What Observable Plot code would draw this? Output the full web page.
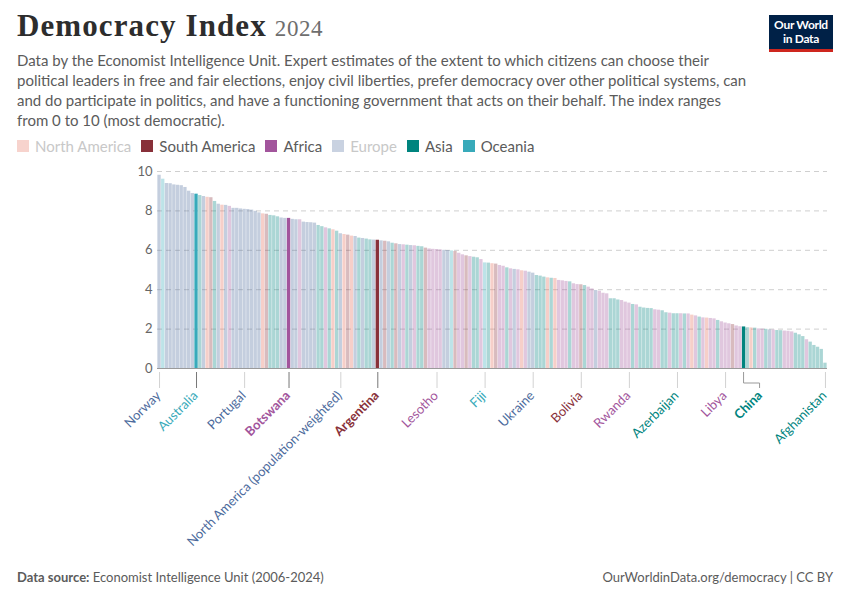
<!DOCTYPE html>
<html>
<head>
<meta charset="utf-8">
<script src="https://cdn.jsdelivr.net/npm/d3@7"></script>
<script src="https://cdn.jsdelivr.net/npm/@observablehq/plot@0.6"></script>
<style>
  html, body { margin: 0; padding: 0; background: #fff; }
  body { width: 850px; height: 600px; position: relative; overflow: hidden; font-family: Lato, "Noto Sans", sans-serif; }
  #title { position: absolute; left: 17px; top: 8px; font-family: "Liberation Serif", "DejaVu Serif", serif; font-size: 31px; font-weight: 700; color: #2d2d2d; white-space: nowrap; letter-spacing: 1.1px; }
  #title span { font-size: 23px; font-weight: 400; color: #6e6e6e; margin-left: 8px; letter-spacing: 0.6px; }
  #subtitle { position: absolute; left: 17px; top: 50px; font-size: 15px; line-height: 20px; color: #5b5b5b; white-space: nowrap; }
  #legend { position: absolute; left: 17px; top: 137px; font-size: 15px; color: #5b5b5b; display: flex; gap: 10px; white-space: nowrap; }
  #legend .item { display: flex; align-items: center; }
  #legend .sw { width: 12px; height: 12px; margin-right: 6px; display: inline-block; }
  #logo { position: absolute; left: 769px; top: 15px; width: 64px; height: 37px; background: #002147; color: #fff; font-size: 12px; font-weight: 700; line-height: 14px; text-align: center; box-sizing: border-box; padding-top: 3px; letter-spacing: -0.3px; border-bottom: 3px solid #ce261e; }
  #chart { position: absolute; left: 0; top: 160px; }
  #footer-left { position: absolute; left: 17px; top: 569px; font-size: 13px; color: #5b5b5b; }
  #footer-right { position: absolute; right: 17px; top: 569px; font-size: 13px; color: #5b5b5b; }
</style>
</head>
<body>
<div id="title">Democracy Index<span>2024</span></div>
<div id="subtitle">Data by the Economist Intelligence Unit. Expert estimates of the extent to which citizens can choose their<br>political leaders in free and fair elections, enjoy civil liberties, prefer democracy over other political systems, can<br>and do participate in politics, and have a functioning government that acts on their behalf. The index ranges<br>from 0 to 10 (most democratic).</div>
<div id="legend"></div>
<div id="logo">Our World<br>in Data</div>
<div id="chart"></div>
<div id="footer-left"><b>Data source:</b> Economist Intelligence Unit (2006-2024)</div>
<div id="footer-right">OurWorldinData.org/democracy | CC BY</div>
<script>
// ---- data (sorted by 2024 score) ----
const countries = [
"Norway","New Zealand","Sweden","Iceland","Switzerland","Finland","Denmark","Ireland","Netherlands","Luxembourg",
"Australia","Taiwan","Germany","Canada","Uruguay","Japan","United Kingdom","Costa Rica","Austria","Mauritius",
"Estonia","Spain","Czechia","Portugal","Greece","France","Belgium","Malta","United States","Chile",
"South Korea","Israel","Malaysia","Slovenia","Italy","Botswana","Lithuania","Cyprus","Cape Verde","Latvia",
"Poland","Slovakia","Croatia","India","Timor-Leste","South Africa","Philippines","Trinidad and Tobago","Indonesia","North America (population-weighted)",
"Panama","Suriname","Jamaica","Hungary","Thailand","Bulgaria","Mongolia","Sri Lanka","Romania","Argentina",
"Serbia","Brazil","Montenegro","Singapore","Colombia","North Macedonia","Ghana","Armenia","Albania","Namibia",
"Nepal","Georgia","Guyana","Zambia","Senegal","Lesotho","Malawi","Moldova","Bosnia and Herzegovina","Papua New Guinea",
"Paraguay","Madagascar","Liberia","Peru","Sierra Leone","Hong Kong","Bhutan","Tanzania","Fiji","Bangladesh",
"Mexico","Ecuador","Kenya","Morocco","Lebanon","Gambia","World (population-weighted)","Tunisia","Honduras","Uganda",
"Asia (population-weighted)","Ukraine","Kyrgyzstan","Qatar","Jordan","El Salvador","Pakistan","Guatemala","Benin","Nigeria",
"Cote d'Ivoire","Turkey","Mauritania","Angola","Bolivia","Iraq","Algeria","Ethiopia","Africa (population-weighted)","Togo",
"Zimbabwe","Mozambique","Kazakhstan","Palestine","Oman","Niger","Gabon","Rwanda","Cambodia","Egypt",
"Vietnam","Bahrain","United Arab Emirates","Uzbekistan","Cameroon","Mali","Saudi Arabia","Kuwait","Burkina Faso","Tajikistan",
"Azerbaijan","Congo","Laos","Guinea","Haiti","Eswatini","Yemen","Djibouti","Cuba","Burundi",
"Eritrea","Asia","Sudan","Libya","Chad","Venezuela","Equatorial Guinea","Guinea-Bissau","China","Syria",
"Nicaragua","Iran","South Sudan","Comoros","Turkmenistan","Belarus","Democratic Republic of Congo","World","Oceania","Africa",
"Central African Republic","Oceania (population-weighted)","Europe","North America","South America","Europe (population-weighted)","South America (population-weighted)","Asia and Oceania","North Korea","Myanmar",
"Afghanistan"
];
const continents = [
"Europe","Oceania","Europe","Europe","Europe","Europe","Europe","Europe","Europe","Europe",
"Oceania","Asia","Europe","North America","South America","Asia","Europe","North America","Europe","Africa",
"Europe","Europe","Europe","Europe","Europe","Europe","Europe","Europe","North America","South America",
"Asia","Asia","Asia","Europe","Europe","Africa","Europe","Europe","Africa","Europe",
"Europe","Europe","Europe","Asia","Asia","Africa","Asia","North America","Asia","Aggregate",
"North America","South America","North America","Europe","Asia","Europe","Asia","Asia","Europe","South America",
"Europe","South America","Europe","Asia","South America","Europe","Africa","Asia","Europe","Africa",
"Asia","Asia","South America","Africa","Africa","Africa","Africa","Europe","Europe","Oceania",
"South America","Africa","Africa","South America","Africa","Asia","Asia","Africa","Oceania","Asia",
"North America","South America","Africa","Africa","Asia","Africa","Aggregate","Africa","North America","Africa",
"Aggregate","Europe","Asia","Asia","Asia","North America","Asia","North America","Africa","Africa",
"Africa","Asia","Africa","Africa","South America","Asia","Africa","Africa","Aggregate","Africa",
"Africa","Africa","Asia","Asia","Asia","Africa","Africa","Africa","Asia","Africa",
"Asia","Asia","Asia","Asia","Africa","Africa","Asia","Asia","Africa","Asia",
"Asia","Africa","Asia","Africa","North America","Africa","Asia","Africa","North America","Africa",
"Africa","Asia","Africa","Africa","Africa","South America","Africa","Africa","Asia","Asia",
"North America","Asia","Africa","Africa","Asia","Europe","Africa","Asia","Asia","Africa",
"Africa","Africa","Asia","Asia","Asia","Africa","Asia","Asia","Asia","Asia",
"Asia"
];
const scores = [
9.81,9.61,9.39,9.38,9.32,9.30,9.28,9.19,9.00,8.88,
8.85,8.78,8.73,8.69,8.67,8.48,8.34,8.29,8.28,8.23,
8.13,8.13,8.10,8.08,8.07,8.04,7.98,7.90,7.85,7.83,
7.77,7.75,7.70,7.64,7.62,7.62,7.57,7.55,7.55,7.43,
7.41,7.40,7.38,7.26,7.20,7.14,7.09,7.04,6.97,6.84,
6.80,6.77,6.72,6.70,6.62,6.60,6.57,6.53,6.52,6.51,
6.48,6.46,6.43,6.36,6.33,6.29,6.28,6.26,6.24,6.23,
6.20,6.18,6.11,6.07,6.05,6.04,6.02,6.00,5.99,5.97,
5.94,5.85,5.77,5.72,5.68,5.65,5.62,5.53,5.36,5.35,
5.32,5.30,5.23,5.19,5.11,5.06,5.03,5.01,4.96,4.94,
4.89,4.84,4.72,4.69,4.64,4.60,4.58,4.57,4.47,4.45,
4.42,4.40,4.30,4.26,4.25,4.21,4.13,4.04,3.96,3.92,
3.82,3.79,3.54,3.54,3.48,3.45,3.37,3.32,3.25,3.23,
3.11,3.07,3.05,3.04,2.98,2.96,2.93,2.83,2.81,2.78,
2.78,2.78,2.77,2.77,2.71,2.67,2.61,2.57,2.56,2.54,
2.52,2.44,2.37,2.31,2.27,2.23,2.16,2.12,2.11,2.07,
2.06,2.05,2.01,2.00,1.99,1.96,1.95,1.93,1.92,1.90,
1.89,1.86,1.79,1.71,1.62,1.46,1.34,1.17,1.08,0.97,
0.27
];
const highlighted = ["Australia","Botswana","Argentina","China"];
const labelled = ["Norway","Australia","Portugal","Botswana","North America (population-weighted)","Argentina","Lesotho","Fiji","Ukraine","Bolivia","Rwanda","Azerbaijan","Libya","China","Afghanistan"];
const boldLabels = ["Botswana","Argentina","China"];
const shiftedLabels = ["China"];
const yTicks = [0, 2, 4, 6, 8, 10];
const legendOrder = ["North America","South America","Africa","Europe","Asia","Oceania"];
const legendActive = ["South America","Africa","Asia","Oceania"];

const palette = {
  "Africa": "#a2559c", "Asia": "#00847e", "Europe": "#4c6a9c",
  "North America": "#e56e5a", "South America": "#883039", "Oceania": "#38aaba",
  "Aggregate": "#4c6a9c"
};

const rows = countries.map((name, i) => ({name, continent: continents[i], value: scores[i]}));
const rowByName = new Map(rows.map(d => [d.name, d]));
const faded = rows.filter(d => !highlighted.includes(d.name));
const strong = rows.filter(d => highlighted.includes(d.name));

// legend
const legend = document.getElementById("legend");
for (const c of legendOrder) {
  const on = legendActive.includes(c);
  const it = document.createElement("div");
  it.className = "item";
  const sw = document.createElement("span");
  sw.className = "sw";
  sw.style.background = palette[c];
  if (!on) sw.style.opacity = 0.3;
  const tx = document.createElement("span");
  tx.textContent = c;
  tx.style.color = on ? "#5b5b5b" : "#c8c8c8";
  it.append(sw, tx);
  legend.append(it);
}

const regularTicks = labelled.filter(n => !highlighted.includes(n));
const strongTicks = labelled.filter(n => highlighted.includes(n) && !shiftedLabels.includes(n));

// group the tick labels by colour / weight / shift so each group is one axis mark
const labelGroups = d3.groups(labelled, n => [rowByName.get(n).continent, boldLabels.includes(n), shiftedLabels.includes(n)].join("|"));
const labelAxes = labelGroups.map(([key, names]) => {
  const [cont, bold, shifted] = key.split("|");
  return Plot.axisX(names, {
    tickSize: 0,
    tickPadding: 25,
    tickRotate: -45,
    tickFormat: d => d,
    fill: palette[cont],
    fontWeight: bold === "true" ? 700 : 400,
    fontSize: 13,
    dx: shifted === "true" ? 16 : -1,
    label: null
  });
});

const chart = Plot.plot({
  width: 850,
  height: 400,
  marginTop: 11,
  marginBottom: 192,
  marginLeft: 157,
  marginRight: 23,
  style: {fontFamily: "Lato, sans-serif", fontSize: "13px", color: "#666", overflow: "visible", background: "transparent"},
  x: {type: "band", domain: countries, padding: 0.1, round: false, axis: null, label: null},
  y: {domain: [0, 10], axis: null, label: null},
  color: {type: "identity"},
  marks: [
    Plot.gridY(yTicks.filter(t => t > 0), {stroke: "#cfcfcf", strokeOpacity: 1, strokeDasharray: "5,4"}),
    Plot.axisY(yTicks, {tickSize: 0, tickPadding: 5, label: null, fill: "#666", fontSize: 13}),
    Plot.barY(faded, {x: "name", y: "value", fill: d => palette[d.continent], fillOpacity: 0.33}),
    Plot.barY(strong, {x: "name", y: "value", fill: d => palette[d.continent], fillOpacity: 1}),
    Plot.ruleY([0], {stroke: "#9a9a9a", strokeWidth: 1}),
    Plot.axisX(regularTicks, {tickSize: 16, dy: 4, tickFormat: () => "", stroke: "#d2d2d2", label: null}),
    Plot.axisX(strongTicks, {tickSize: 16, dy: 4, tickFormat: () => "", stroke: "#777", label: null}),
    ...labelAxes
  ]
});
document.getElementById("chart").append(chart);

// China: bent leader line from its bar to the shifted label, placed via the plot's x scale
const xs = chart.scale("x");
const cx = xs.apply("China") + xs.bandwidth / 2;
const baseY = 400 - 192;
d3.select(chart).append("path")
  .attr("d", `M${cx},${baseY + 4}V${baseY + 15}H${cx + 16}V${baseY + 20}`)
  .attr("fill", "none")
  .attr("stroke", "#999");
</script>
</body>
</html>
